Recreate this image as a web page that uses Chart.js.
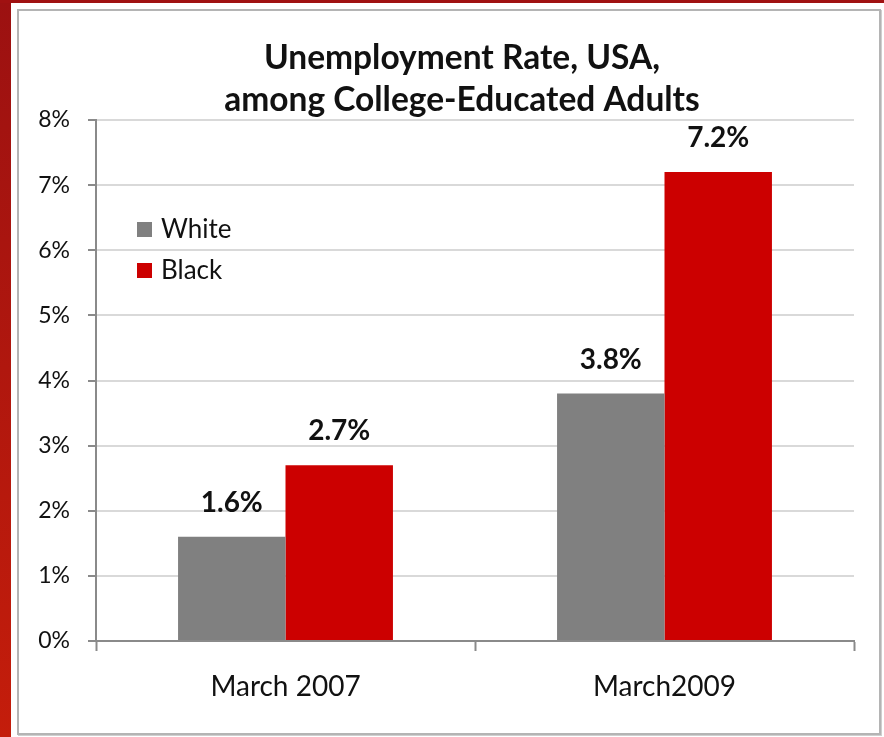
<!DOCTYPE html>
<html>
<head>
<meta charset="utf-8">
<script src="https://cdn.jsdelivr.net/npm/chart.js@4"></script>
<style>
  html, body { margin: 0; padding: 0; background: #ffffff; }
  body { width: 884px; height: 737px; position: relative; overflow: hidden; }
  .band-left { position: absolute; left: 0; top: 0; width: 11px; height: 737px;
    background: linear-gradient(#9c1111, #c41d0b); }
  .band-top { position: absolute; left: 0; top: 0; width: 884px; height: 3px; background: #a01111; }
  .panel { position: absolute; left: 17px; top: 9px; width: 860px; height: 722px;
    border: 2px solid #b4b4b4; box-shadow: 1px 1px 0 #cfcfcf; background: #fff; }
  #wrap { position: absolute; left: 0; top: 0; width: 884px; height: 737px; }
</style>
</head>
<body>
<div class="band-left"></div>
<div class="band-top"></div>
<div class="panel"></div>
<div id="wrap"><canvas id="rateChart"></canvas></div>
<script>
// Unemployment rate (%) among college-educated adults
const periods = ['March 2007', 'March2009'];
const whiteRates = [1.6, 3.8];
const blackRates = [2.7, 7.2];
const yTicks = [0, 1, 2, 3, 4, 5, 6, 7, 8];
const titleLines = ['Unemployment Rate, USA,', 'among College-Educated Adults'];

const FONT = 'Lato, "Open Sans", sans-serif';

// Two-line heading, centred a little left of the plot centre
const heading = {
    id: 'heading',
    afterDraw(chart) {
        const ctx = chart.ctx;
        ctx.save();
        ctx.font = 'bold 33.5px ' + FONT;
        ctx.fillStyle = '#111';
        ctx.textAlign = 'center';
        ctx.textBaseline = 'middle';
        titleLines.forEach((line, i) => ctx.fillText(line, 462, 58 + i * 42));
        ctx.restore();
    }
};

// Value labels above each bar
const barLabels = {
    id: 'barLabels',
    afterDatasetsDraw(chart) {
        const ctx = chart.ctx;
        ctx.save();
        ctx.font = 'bold 28px ' + FONT;
        ctx.fillStyle = '#111';
        ctx.textAlign = 'center';
        ctx.textBaseline = 'middle';
        chart.data.datasets.forEach((ds, i) => {
            chart.getDatasetMeta(i).data.forEach((bar, j) => {
                ctx.fillText(ds.data[j].toFixed(1) + '%', bar.x, bar.y - 34);
            });
        });
        ctx.restore();
    }
};

// Legend drawn inside the plot area, upper left
const innerLegend = {
    id: 'innerLegend',
    afterDraw(chart) {
        const ctx = chart.ctx;
        ctx.save();
        ctx.font = '26px ' + FONT;
        ctx.textBaseline = 'middle';
        ctx.textAlign = 'left';
        chart.data.datasets.forEach((ds, i) => {
            const y = 230 + i * 41;
            ctx.fillStyle = ds.backgroundColor;
            ctx.fillRect(137, y - 8, 15, 15);
            ctx.fillStyle = '#111';
            ctx.fillText(ds.label, 161, y);
        });
        ctx.restore();
    }
};

new Chart(document.getElementById('rateChart'), {
    type: 'bar',
    data: {
        labels: periods,
        datasets: [{
            label: 'White',
            data: whiteRates,
            backgroundColor: '#808080',
            categoryPercentage: 0.567,
            barPercentage: 1
        }, {
            label: 'Black',
            data: blackRates,
            backgroundColor: '#cc0000',
            categoryPercentage: 0.567,
            barPercentage: 1
        }]
    },
    options: {
        responsive: true,
        maintainAspectRatio: false,
        animation: false,
        layout: { padding: { left: 20, right: 30, top: 120, bottom: 0 } },
        plugins: {
            legend: { display: false },
            tooltip: { enabled: false },
            title: { display: false }
        },
        scales: {
            x: {
                grid: {
                    drawOnChartArea: false,
                    drawTicks: true,
                    tickLength: 10,
                    tickColor: '#8a8a8a',
                    tickWidth: 2
                },
                border: { color: '#8a8a8a', width: 2 },
                ticks: {
                    color: '#111',
                    padding: 19,
                    font: { family: FONT, size: 28 }
                },
                afterFit(scale) { scale.height = 96; }
            },
            y: {
                min: 0,
                max: 8,
                afterBuildTicks(scale) { scale.ticks = yTicks.map(v => ({ value: v })); },
                grid: {
                    color: '#d9d9d9',
                    lineWidth: 2,
                    tickLength: 8,
                    tickColor: '#8a8a8a',
                    tickWidth: 2
                },
                border: { color: '#8a8a8a', width: 2 },
                ticks: {
                    color: '#111',
                    padding: 18,
                    font: { family: FONT, size: 23 },
                    callback: v => v + '%'
                },
                afterFit(scale) { scale.width = 76; }
            }
        }
    },
    plugins: [heading, barLabels, innerLegend]
});
</script>
</body>
</html>
